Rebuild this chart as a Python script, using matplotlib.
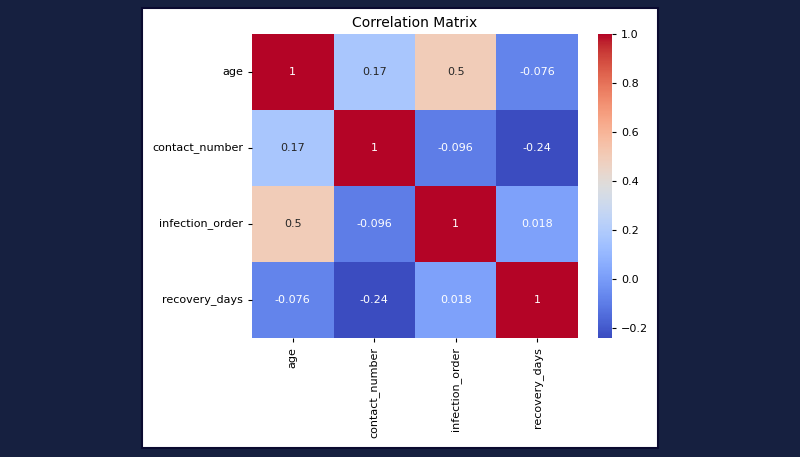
import matplotlib
matplotlib.use("Agg")
import matplotlib.pyplot as plt
import seaborn as sns
import numpy as np
import pandas as pd
from matplotlib.patches import Rectangle

labels = ["age", "contact_number", "infection_order", "recovery_days"]
row_age = [1.0, 0.17, 0.5, -0.076]
row_contact = [0.17, 1.0, -0.096, -0.24]
row_infection = [0.5, -0.096, 1.0, 0.018]
row_recovery = [-0.076, -0.24, 0.018, 1.0]

corr = pd.DataFrame([row_age, row_contact, row_infection, row_recovery],
                    index=labels, columns=labels)

fig = plt.figure(figsize=(8, 4.57), dpi=100, facecolor="#162040")
panel = Rectangle((0.1775, 0.0197), 0.645, 0.963, transform=fig.transFigure,
                  facecolor="white", edgecolor="#0a0a30", linewidth=1.5, zorder=-10)
fig.patches.append(panel)

ax = fig.add_axes([0.315, 0.2604, 0.4075, 0.6652])
cax = fig.add_axes([0.7475, 0.2604, 0.0175, 0.6652])
sns.heatmap(corr, annot=True, cmap="coolwarm", ax=ax, cbar_ax=cax,
            annot_kws={"fontsize": 8})
ax.set_title("Correlation Matrix", fontsize=10, pad=5)
ax.tick_params(labelsize=8, length=3)
cax.tick_params(labelsize=8, length=3)
fig.savefig("out.png", dpi=100, facecolor=fig.get_facecolor())
